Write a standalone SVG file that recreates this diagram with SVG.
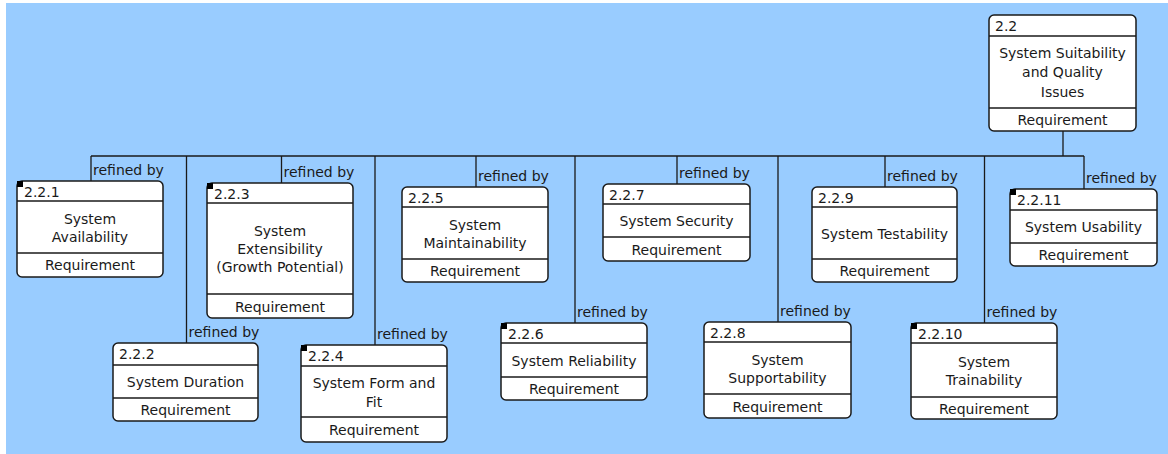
<svg xmlns="http://www.w3.org/2000/svg" width="1168" height="454" viewBox="0 0 1168 454">
<style>
.bg{fill:#99CCFF}
.box{fill:#fff;stroke:#1a1a1a;stroke-width:1.5}
.div{stroke:#1a1a1a;stroke-width:1.3}
.mark{fill:#000}
.conn line{stroke:#1a1a1a;stroke-width:1.3}
text{font-family:"DejaVu Sans","Liberation Sans",sans-serif;font-size:14px;fill:#1a1a1a}
.c{text-anchor:middle}
</style>
<rect width="1168" height="454" fill="#fff"/>
<rect class="bg" x="6" y="3" width="1162" height="451"/>
<g id="connectors" class="conn">
<line x1="91" y1="156" x2="1084" y2="156"/>
<line x1="1063" y1="131" x2="1063" y2="156"/>
<line x1="91" y1="156" x2="91" y2="181"/>
<line x1="186.5" y1="156" x2="186.5" y2="343"/>
<line x1="281.5" y1="156" x2="281.5" y2="183"/>
<line x1="375" y1="156" x2="375" y2="345"/>
<line x1="476" y1="156" x2="476" y2="187"/>
<line x1="575" y1="156" x2="575" y2="323"/>
<line x1="677" y1="156" x2="677" y2="184"/>
<line x1="778" y1="156" x2="778" y2="322"/>
<line x1="885" y1="156" x2="885" y2="187"/>
<line x1="984.5" y1="156" x2="984.5" y2="323"/>
<line x1="1084" y1="156" x2="1084" y2="189"/>
<text x="93" y="174.5">refined by</text>
<text x="188.5" y="336.5">refined by</text>
<text x="283.5" y="176.5">refined by</text>
<text x="377" y="338.5">refined by</text>
<text x="478" y="180.5">refined by</text>
<text x="577" y="316.5">refined by</text>
<text x="679" y="177.5">refined by</text>
<text x="780" y="315.5">refined by</text>
<text x="887" y="180.5">refined by</text>
<text x="986.5" y="316.5">refined by</text>
<text x="1086" y="182.5">refined by</text>
</g>
<g id="n2_2">
<rect class="box" x="989" y="15" width="147" height="116" rx="5"/>
<line class="div" x1="989" y1="36" x2="1136" y2="36"/>
<line class="div" x1="989" y1="108" x2="1136" y2="108"/>
<text x="995" y="30.5">2.2</text>
<text class="c" x="1062.5" y="57.5">System Suitability</text>
<text class="c" x="1062.5" y="77">and Quality</text>
<text class="c" x="1062.5" y="96.5">Issues</text>
<text class="c" x="1062.5" y="125">Requirement</text>
</g>
<g id="n2_2_1">
<rect class="box" x="17" y="181" width="146" height="96" rx="5"/>
<line class="div" x1="17" y1="201" x2="163" y2="201"/>
<line class="div" x1="17" y1="253" x2="163" y2="253"/>
<rect class="mark" x="17" y="181" width="6" height="6"/>
<text x="24" y="196.5">2.2.1</text>
<text class="c" x="90" y="224">System</text>
<text class="c" x="90" y="242">Availability</text>
<text class="c" x="90" y="270">Requirement</text>
</g>
<g id="n2_2_2">
<rect class="box" x="113" y="343" width="145" height="78" rx="5"/>
<line class="div" x1="113" y1="365" x2="258" y2="365"/>
<line class="div" x1="113" y1="398" x2="258" y2="398"/>
<text x="119" y="359">2.2.2</text>
<text class="c" x="185.5" y="386.5">System Duration</text>
<text class="c" x="185.5" y="414.5">Requirement</text>
</g>
<g id="n2_2_3">
<rect class="box" x="207" y="183" width="146" height="135" rx="5"/>
<line class="div" x1="207" y1="203" x2="353" y2="203"/>
<line class="div" x1="207" y1="294" x2="353" y2="294"/>
<rect class="mark" x="207" y="183" width="6" height="6"/>
<text x="214" y="198.5">2.2.3</text>
<text class="c" x="280" y="235.5">System</text>
<text class="c" x="280" y="253.5">Extensibility</text>
<text class="c" x="280" y="272">(Growth Potential)</text>
<text class="c" x="280" y="311.5">Requirement</text>
</g>
<g id="n2_2_4">
<rect class="box" x="301" y="345" width="146" height="97" rx="5"/>
<line class="div" x1="301" y1="366" x2="447" y2="366"/>
<line class="div" x1="301" y1="417" x2="447" y2="417"/>
<rect class="mark" x="301" y="345" width="6" height="6"/>
<text x="308" y="360.5">2.2.4</text>
<text class="c" x="374" y="387.5">System Form and</text>
<text class="c" x="374" y="407">Fit</text>
<text class="c" x="374" y="435">Requirement</text>
</g>
<g id="n2_2_5">
<rect class="box" x="402" y="187" width="146" height="95" rx="5"/>
<line class="div" x1="402" y1="207" x2="548" y2="207"/>
<line class="div" x1="402" y1="259" x2="548" y2="259"/>
<text x="408" y="202.5">2.2.5</text>
<text class="c" x="475" y="229.5">System</text>
<text class="c" x="475" y="248">Maintainability</text>
<text class="c" x="475" y="276">Requirement</text>
</g>
<g id="n2_2_6">
<rect class="box" x="501" y="323" width="146" height="77" rx="5"/>
<line class="div" x1="501" y1="343" x2="647" y2="343"/>
<line class="div" x1="501" y1="377" x2="647" y2="377"/>
<rect class="mark" x="501" y="323" width="6" height="6"/>
<text x="508" y="338.5">2.2.6</text>
<text class="c" x="574" y="366">System Reliability</text>
<text class="c" x="574" y="394">Requirement</text>
</g>
<g id="n2_2_7">
<rect class="box" x="603" y="184" width="147" height="77" rx="5"/>
<line class="div" x1="603" y1="204" x2="750" y2="204"/>
<line class="div" x1="603" y1="237" x2="750" y2="237"/>
<text x="609" y="199.5">2.2.7</text>
<text class="c" x="676.5" y="226">System Security</text>
<text class="c" x="676.5" y="254.5">Requirement</text>
</g>
<g id="n2_2_8">
<rect class="box" x="704" y="322" width="147" height="96" rx="5"/>
<line class="div" x1="704" y1="342" x2="851" y2="342"/>
<line class="div" x1="704" y1="394" x2="851" y2="394"/>
<text x="710" y="337.5">2.2.8</text>
<text class="c" x="777.5" y="365">System</text>
<text class="c" x="777.5" y="383">Supportability</text>
<text class="c" x="777.5" y="411.5">Requirement</text>
</g>
<g id="n2_2_9">
<rect class="box" x="812" y="187" width="145" height="95" rx="5"/>
<line class="div" x1="812" y1="207" x2="957" y2="207"/>
<line class="div" x1="812" y1="259" x2="957" y2="259"/>
<text x="818" y="202.5">2.2.9</text>
<text class="c" x="884.5" y="239">System Testability</text>
<text class="c" x="884.5" y="276">Requirement</text>
</g>
<g id="n2_2_10">
<rect class="box" x="911" y="323" width="146" height="96" rx="5"/>
<line class="div" x1="911" y1="343" x2="1057" y2="343"/>
<line class="div" x1="911" y1="397" x2="1057" y2="397"/>
<rect class="mark" x="911" y="323" width="6" height="6"/>
<text x="918" y="338.5">2.2.10</text>
<text class="c" x="984" y="367">System</text>
<text class="c" x="984" y="385">Trainability</text>
<text class="c" x="984" y="413.5">Requirement</text>
</g>
<g id="n2_2_11">
<rect class="box" x="1010" y="189" width="147" height="77" rx="5"/>
<line class="div" x1="1010" y1="210" x2="1157" y2="210"/>
<line class="div" x1="1010" y1="243" x2="1157" y2="243"/>
<rect class="mark" x="1010" y="189" width="6" height="6"/>
<text x="1017" y="204.5">2.2.11</text>
<text class="c" x="1083.5" y="232">System Usability</text>
<text class="c" x="1083.5" y="260">Requirement</text>
</g>
</svg>
